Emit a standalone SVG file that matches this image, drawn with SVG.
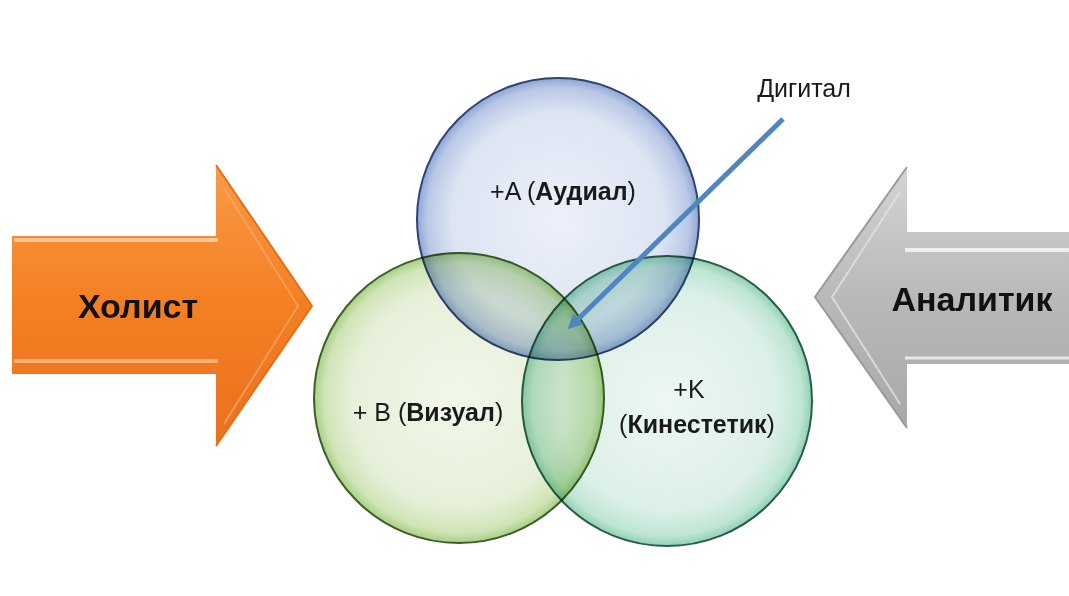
<svg xmlns="http://www.w3.org/2000/svg" width="1069" height="596" viewBox="0 0 1069 596">
<style>
.lbl{font-family:"Liberation Sans",Arial,sans-serif;fill:#1a1a1a;font-size:25px}
.big{font-family:"Liberation Sans",Arial,sans-serif;font-weight:bold;font-size:34px;fill:#111}
.b{font-weight:bold}
.ven{mix-blend-mode:multiply}
</style>
<defs>
<radialGradient id="gBlue" cx="0.5" cy="0.5" r="0.5">
<stop offset="0" stop-color="#ecf0f9"/><stop offset="0.75" stop-color="#dde5f3"/><stop offset="0.93" stop-color="#b9c8e6"/><stop offset="1" stop-color="#8ea6d4"/>
</radialGradient>
<radialGradient id="gGreen" cx="0.5" cy="0.5" r="0.5">
<stop offset="0" stop-color="#f2f7eb"/><stop offset="0.75" stop-color="#e6f0d9"/><stop offset="0.93" stop-color="#cfe4b6"/><stop offset="1" stop-color="#a8cf84"/>
</radialGradient>
<radialGradient id="gTeal" cx="0.5" cy="0.5" r="0.5">
<stop offset="0" stop-color="#edf7f2"/><stop offset="0.75" stop-color="#dcf0e7"/><stop offset="0.93" stop-color="#bfe5d4"/><stop offset="1" stop-color="#8fd1b4"/>
</radialGradient>
<linearGradient id="gOrange" x1="0" y1="0" x2="0" y2="1">
<stop offset="0" stop-color="#f89a48"/><stop offset="0.5" stop-color="#f47f22"/><stop offset="1" stop-color="#ea7020"/>
</linearGradient>
<linearGradient id="gGray" x1="0" y1="0" x2="0" y2="1">
<stop offset="0" stop-color="#d4d4d4"/><stop offset="0.5" stop-color="#b9b9b9"/><stop offset="1" stop-color="#a8a8a8"/>
</linearGradient>
<marker id="ah" viewBox="0 0 10 10" refX="6" refY="5" markerWidth="3" markerHeight="3" orient="auto">
<path d="M0,0 L10,5 L0,10 z" fill="#4f86c0"/>
</marker>
</defs>
<rect width="1069" height="596" fill="#ffffff"/>

<g id="holist">
<path d="M12,236 L216,236 L216,165 L312,306 L216,446 L216,374 L12,374 Z" fill="url(#gOrange)"/>
<path d="M14,240 L218,240" stroke="#fdd7a6" stroke-width="4" opacity="0.8"/>
<path d="M14,361 L218,361" stroke="#fdd7a6" stroke-width="4" opacity="0.6"/>
<path d="M216,165 L312,306 L216,446" fill="none" stroke="#e06f1e" stroke-width="2"/>
<path d="M224,188 L298,306 L224,424" fill="none" stroke="#f6a868" stroke-width="2" opacity="0.7"/>
<text class="big" x="138" y="318" text-anchor="middle">Холист</text>
</g>

<g id="analitik">
<path d="M1069,232 L907,232 L907,167 L815,297 L907,428 L907,364 L1069,364 Z" fill="url(#gGray)"/>
<path d="M905,250 L1069,250" stroke="#f4f4f4" stroke-width="4" opacity="0.9"/>
<path d="M905,358 L1069,358" stroke="#f4f4f4" stroke-width="3" opacity="0.8"/>
<path d="M907,167 L815,297 L907,428" fill="none" stroke="#9a9a9a" stroke-width="2"/>
<path d="M900,192 L832,297 L900,404" fill="none" stroke="#e2e2e2" stroke-width="2" opacity="0.8"/>
<text class="big" x="972" y="311" text-anchor="middle" font-size="35">Аналитик</text>
</g>

<g id="audial" class="ven">
<circle cx="558" cy="219" r="141" fill="url(#gBlue)" stroke="#2f4470" stroke-width="2"/>
</g>
<g id="vizual" class="ven">
<circle cx="459" cy="398" r="145" fill="url(#gGreen)" stroke="#3e5e26" stroke-width="2"/>
</g>
<g id="kinestetik" class="ven">
<circle cx="667" cy="401" r="145" fill="url(#gTeal)" stroke="#2a5c4a" stroke-width="2"/>
</g>

<g id="texts">
<text class="lbl" x="563" y="200" text-anchor="middle">+A (<tspan class="b">Аудиал</tspan>)</text>
<text class="lbl" x="428" y="421" text-anchor="middle">+ B (<tspan class="b">Визуал</tspan>)</text>
<text class="lbl" x="689" y="398" text-anchor="middle">+K</text>
<text class="lbl" x="697" y="433" text-anchor="middle">(<tspan class="b">Кинестетик</tspan>)</text>
<text class="lbl" x="804" y="97" font-size="26" text-anchor="middle" fill="#3a3a3a">Дигитал</text>
</g>

<g id="connectors">
<line x1="783" y1="119" x2="572" y2="325" stroke="#4f86c0" stroke-width="5" marker-end="url(#ah)"/>
</g>
</svg>
